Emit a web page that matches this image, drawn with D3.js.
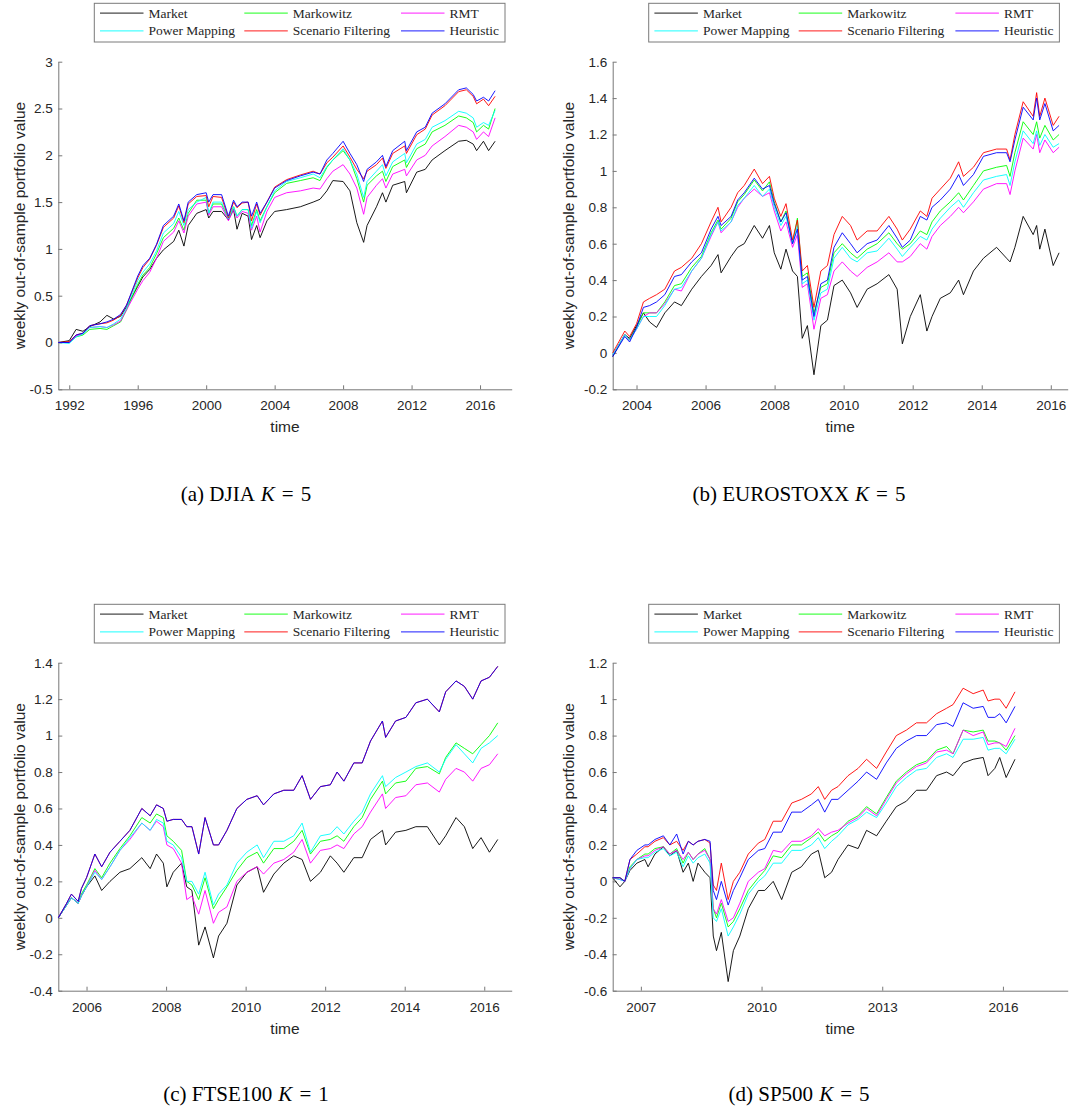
<!DOCTYPE html>
<html>
<head>
<meta charset="utf-8">
<script src="https://cdn.jsdelivr.net/npm/d3@7"></script>
<style>
  body { margin: 0; background: #fff; }
  svg { display: block; }
</style>
</head>
<body>
<div id="chart-area"></div>
<script>
// series legend + colours (MATLAB short names k g m c r b)
var seriesNames = ["Market", "Markowitz", "RMT", "Power Mapping", "Scenario Filtering", "Heuristic"]
var seriesColors = ["#000000", "#00ff00", "#ff00ff", "#00ffff", "#ff0000", "#0000ff"]

// ---- (a) DJIA K = 5 ----
var djiaDates = [1991.36, 1992.0, 1992.4, 1992.8, 1993.2, 1993.8, 1994.2, 1994.6, 1995.0, 1995.35,
    1996.0, 1996.3, 1996.7, 1997.1, 1997.5, 1998.1, 1998.4, 1998.7, 1998.95, 1999.45,
    2000.0, 2000.15, 2000.4, 2000.9, 2001.3, 2001.6, 2001.8, 2002.1, 2002.45, 2002.65,
    2002.95, 2003.15, 2003.55, 2004.0, 2004.7, 2005.5, 2006.25, 2006.65, 2007.05, 2007.4,
    2008.0, 2008.4, 2008.8, 2009.2, 2009.4, 2009.95, 2010.3, 2010.5, 2010.9, 2011.6,
    2011.7, 2012.3, 2012.8, 2013.2, 2013.95, 2014.75, 2015.2, 2015.6, 2015.8, 2016.2,
    2016.5, 2016.88]
var djiaMarket = [0, 0.02, 0.14, 0.12, 0.17, 0.22, 0.29, 0.25, 0.28, 0.38,
    0.6, 0.7, 0.78, 0.9, 0.99, 1.08, 1.2, 1.03, 1.25, 1.38,
    1.42, 1.33, 1.4, 1.4, 1.31, 1.42, 1.21, 1.38, 1.35, 1.1,
    1.25, 1.12, 1.3, 1.4, 1.42, 1.45, 1.5, 1.53, 1.62, 1.73,
    1.72, 1.62, 1.28, 1.07, 1.25, 1.45, 1.6, 1.5, 1.68, 1.72,
    1.6, 1.82, 1.85, 1.95, 2.05, 2.15, 2.16, 2.12, 2.05, 2.15,
    2.05, 2.15]
var djiaMarkowitz = [0, 0.0, 0.06, 0.08, 0.14, 0.15, 0.14, 0.18, 0.22, 0.35,
    0.62, 0.72, 0.8, 0.95, 1.12, 1.22, 1.33, 1.2, 1.38, 1.52,
    1.52, 1.38, 1.48, 1.48, 1.32, 1.45, 1.35, 1.42, 1.42, 1.25,
    1.42, 1.3, 1.45, 1.6, 1.7, 1.73, 1.76, 1.73, 1.87, 1.95,
    2.05, 1.95, 1.75, 1.5, 1.68, 1.78, 1.83, 1.72, 1.88, 1.95,
    1.87, 2.07, 2.12, 2.25, 2.32, 2.42, 2.4, 2.35, 2.25, 2.32,
    2.28, 2.5]
var djiaRMT = [0, 0.0, 0.07, 0.09, 0.16, 0.17, 0.16, 0.19, 0.23, 0.35,
    0.57, 0.66, 0.75, 0.9, 1.08, 1.18, 1.3, 1.17, 1.35, 1.48,
    1.5, 1.36, 1.45, 1.45, 1.3, 1.42, 1.33, 1.4, 1.38, 1.2,
    1.35, 1.18, 1.4, 1.55, 1.6, 1.62, 1.65, 1.64, 1.75, 1.83,
    1.9, 1.8, 1.65, 1.37, 1.55, 1.68, 1.75, 1.65, 1.8, 1.85,
    1.78, 1.95, 2.0, 2.1, 2.2, 2.32, 2.3, 2.25, 2.17, 2.25,
    2.2, 2.4]
var djiaPower = [0, -0.01, 0.06, 0.09, 0.16, 0.17, 0.16, 0.2, 0.25, 0.37,
    0.66, 0.75, 0.84, 0.98, 1.17, 1.27, 1.4, 1.25, 1.42, 1.5,
    1.55, 1.38, 1.5, 1.5, 1.32, 1.45, 1.35, 1.42, 1.42, 1.22,
    1.4, 1.28, 1.45, 1.62, 1.72, 1.76, 1.8, 1.76, 1.88, 1.95,
    2.07, 1.95, 1.8, 1.55, 1.72, 1.83, 1.9, 1.78, 1.93, 2.02,
    1.92, 2.12, 2.17, 2.3, 2.37, 2.47, 2.45, 2.4, 2.3, 2.35,
    2.32, 2.48]
var djiaScenario = [0, 0.01, 0.08, 0.1, 0.18, 0.2, 0.21, 0.24, 0.29, 0.4,
    0.69, 0.8, 0.89, 1.04, 1.23, 1.33, 1.46, 1.28, 1.48, 1.56,
    1.57, 1.45, 1.56, 1.55, 1.33, 1.5, 1.44, 1.49, 1.5, 1.3,
    1.48, 1.36, 1.5, 1.66, 1.74, 1.79, 1.83, 1.8, 1.92, 1.98,
    2.1, 1.98, 1.85, 1.75, 1.83, 1.9, 1.97, 1.86, 2.02, 2.1,
    2.02, 2.22, 2.28, 2.43, 2.53, 2.68, 2.7, 2.63, 2.55, 2.6,
    2.53, 2.63]
var djiaHeuristic = [0, 0.0, 0.08, 0.1, 0.18, 0.2, 0.22, 0.25, 0.3, 0.4,
    0.71, 0.82, 0.9, 1.05, 1.25, 1.35, 1.48, 1.3, 1.5, 1.58,
    1.6, 1.5, 1.58, 1.58, 1.35, 1.52, 1.45, 1.5, 1.5, 1.35,
    1.5, 1.38, 1.5, 1.65, 1.73, 1.78, 1.82, 1.8, 1.95, 2.02,
    2.15, 2.02, 1.9, 1.72, 1.85, 1.93, 2.0, 1.88, 2.05, 2.15,
    2.05, 2.25, 2.3, 2.45, 2.55, 2.7, 2.72, 2.65, 2.58, 2.62,
    2.58, 2.69]

// ---- (b) EUROSTOXX K = 5 ----
var euroDates = [2003.31, 2003.66, 2003.8, 2004.0, 2004.2, 2004.38, 2004.58, 2004.82, 2005.1, 2005.3,
    2005.6, 2005.88, 2006.16, 2006.36, 2006.45, 2006.74, 2006.93, 2007.12, 2007.41, 2007.65,
    2007.85, 2007.99, 2008.18, 2008.33, 2008.52, 2008.66, 2008.8, 2008.95, 2009.14, 2009.34,
    2009.53, 2009.72, 2009.96, 2010.2, 2010.39, 2010.68, 2010.97, 2011.31, 2011.55, 2011.7,
    2011.93, 2012.22, 2012.41, 2012.56, 2012.8, 2013.09, 2013.33, 2013.47, 2013.76, 2014.05,
    2014.43, 2014.72, 2014.82, 2014.96, 2015.2, 2015.49, 2015.59, 2015.68, 2015.83, 2016.07, 2016.24]
var euroMarket = [-0.02, 0.1, 0.08, 0.15, 0.22, 0.17, 0.14, 0.22, 0.28, 0.26,
    0.35, 0.42, 0.48, 0.54, 0.44, 0.53, 0.58, 0.6, 0.7, 0.63,
    0.7, 0.55, 0.46, 0.57, 0.45, 0.42, 0.08, 0.15, -0.12, 0.15,
    0.18, 0.37, 0.4, 0.33, 0.25, 0.35, 0.38, 0.43, 0.35, 0.05,
    0.2, 0.32, 0.12, 0.2, 0.3, 0.33, 0.4, 0.32, 0.45, 0.52,
    0.58, 0.52, 0.5, 0.58, 0.75, 0.65, 0.7, 0.57, 0.68, 0.48, 0.55]
var euroMarkowitz = [-0.01, 0.1, 0.07, 0.14, 0.22, 0.22, 0.22, 0.28, 0.37, 0.38,
    0.47, 0.53, 0.66, 0.73, 0.68, 0.74, 0.83, 0.87, 0.95, 0.89,
    0.94, 0.83, 0.72, 0.78, 0.6, 0.74, 0.42, 0.44, 0.22, 0.36,
    0.38, 0.55, 0.6, 0.55, 0.52, 0.57, 0.6, 0.66, 0.6, 0.57,
    0.6, 0.67, 0.65, 0.72, 0.78, 0.83, 0.88, 0.84, 0.92, 1.0,
    1.02, 1.03, 0.97, 1.1, 1.27, 1.2, 1.27, 1.18, 1.25, 1.17, 1.2]
var euroRMT = [-0.01, 0.1, 0.07, 0.13, 0.2, 0.22, 0.22, 0.27, 0.35, 0.34,
    0.45, 0.52, 0.64, 0.72, 0.66, 0.72, 0.8, 0.85, 0.9, 0.86,
    0.88, 0.78, 0.67, 0.72, 0.58, 0.65, 0.36, 0.38, 0.13, 0.3,
    0.32, 0.45, 0.5, 0.45, 0.42, 0.47, 0.5, 0.55, 0.5, 0.5,
    0.53, 0.6, 0.57, 0.64, 0.7, 0.75, 0.8, 0.77, 0.83, 0.9,
    0.93, 0.93, 0.87, 1.0, 1.18, 1.12, 1.2, 1.1, 1.17, 1.1, 1.13]
var euroPower = [-0.01, 0.1, 0.07, 0.13, 0.2, 0.2, 0.2, 0.26, 0.35, 0.36,
    0.45, 0.52, 0.65, 0.72, 0.67, 0.72, 0.81, 0.85, 0.92, 0.86,
    0.9, 0.8, 0.7, 0.75, 0.6, 0.7, 0.38, 0.4, 0.18, 0.33,
    0.35, 0.52, 0.58, 0.52, 0.5, 0.55, 0.56, 0.63, 0.57, 0.53,
    0.58, 0.64, 0.62, 0.68, 0.74, 0.8, 0.84, 0.8, 0.88, 0.95,
    0.97, 0.98, 0.92, 1.05, 1.22, 1.15, 1.22, 1.14, 1.2, 1.13, 1.15]
var euroScenario = [0.0, 0.12, 0.09, 0.16, 0.28, 0.3, 0.32, 0.35, 0.45, 0.47,
    0.52, 0.6, 0.72, 0.8, 0.72, 0.8, 0.88, 0.92, 1.01, 0.93,
    0.97, 0.85, 0.75, 0.82, 0.62, 0.73, 0.45, 0.48, 0.25, 0.45,
    0.48, 0.65, 0.75, 0.7, 0.62, 0.67, 0.67, 0.75, 0.68, 0.62,
    0.68, 0.78, 0.75, 0.85, 0.9, 0.96, 1.05, 0.97, 1.02, 1.1,
    1.12, 1.12, 1.06, 1.2, 1.38, 1.3, 1.43, 1.3, 1.4, 1.25, 1.3]
var euroHeuristic = [-0.02, 0.09, 0.06, 0.14, 0.25, 0.26, 0.28, 0.32, 0.42, 0.43,
    0.5, 0.55, 0.68, 0.75, 0.7, 0.75, 0.84, 0.88, 0.96, 0.9,
    0.92, 0.82, 0.72, 0.77, 0.6, 0.68, 0.4, 0.42, 0.2, 0.38,
    0.4, 0.58, 0.66, 0.6, 0.55, 0.6, 0.62, 0.7, 0.63, 0.58,
    0.62, 0.75, 0.73, 0.8, 0.84, 0.9, 0.98, 0.92, 0.98, 1.08,
    1.1, 1.1, 1.05, 1.17, 1.35, 1.28, 1.4, 1.28, 1.37, 1.22, 1.25]

// ---- (c) FTSE100 K = 1 ----
var ftseDates = [2005.29, 2005.5, 2005.62, 2005.79, 2005.87, 2006.0, 2006.21, 2006.38, 2006.59, 2006.84,
    2007.09, 2007.39, 2007.6, 2007.76, 2007.93, 2008.02, 2008.18, 2008.39, 2008.52, 2008.65,
    2008.82, 2008.98, 2009.19, 2009.32, 2009.53, 2009.78, 2010.03, 2010.29, 2010.45, 2010.71,
    2010.96, 2011.21, 2011.42, 2011.63, 2011.88, 2012.13, 2012.3, 2012.47, 2012.72, 2012.93,
    2013.14, 2013.44, 2013.52, 2013.77, 2014.03, 2014.28, 2014.57, 2014.87, 2015.03, 2015.29,
    2015.5, 2015.71, 2015.92, 2016.13, 2016.34]
var ftseMarket = [0, 0.07, 0.11, 0.08, 0.12, 0.17, 0.23, 0.15, 0.2, 0.25,
    0.27, 0.33, 0.27, 0.35, 0.3, 0.17, 0.25, 0.3, 0.17, 0.15,
    -0.15, -0.05, -0.22, -0.1, -0.03, 0.18, 0.25, 0.28, 0.14, 0.24,
    0.3, 0.34, 0.32, 0.2, 0.25, 0.34, 0.3, 0.25, 0.33, 0.33,
    0.43, 0.48, 0.4, 0.47, 0.48, 0.5, 0.5, 0.4, 0.45, 0.55,
    0.5, 0.38, 0.44, 0.36, 0.43]
var ftseMarkowitz = [0, 0.07, 0.11, 0.08, 0.13, 0.18, 0.27, 0.22, 0.3, 0.38,
    0.45, 0.55, 0.52, 0.57, 0.55, 0.45, 0.42, 0.37, 0.2, 0.18,
    0.1, 0.22, 0.05, 0.1, 0.17, 0.26, 0.33, 0.36, 0.3, 0.38,
    0.38, 0.42, 0.48, 0.35, 0.42, 0.43, 0.45, 0.42, 0.5, 0.55,
    0.65, 0.75, 0.68, 0.74, 0.75, 0.82, 0.83, 0.79, 0.88, 0.96,
    0.93, 0.9, 0.95, 1.0, 1.07]
var ftseRMT = [0, 0.07, 0.11, 0.08, 0.12, 0.17, 0.26, 0.21, 0.28, 0.37,
    0.43, 0.52, 0.48, 0.53, 0.5, 0.4, 0.38, 0.3, 0.1, 0.12,
    0.02, 0.15, -0.03, 0.03, 0.06, 0.2, 0.25, 0.28, 0.24, 0.3,
    0.32, 0.36, 0.43, 0.3, 0.37, 0.38, 0.4, 0.38, 0.46, 0.5,
    0.58, 0.68, 0.6, 0.66, 0.67, 0.73, 0.74, 0.69, 0.76, 0.82,
    0.8, 0.75, 0.82, 0.84, 0.9]
var ftsePower = [0, 0.07, 0.11, 0.08, 0.12, 0.17, 0.25, 0.21, 0.28, 0.37,
    0.44, 0.52, 0.48, 0.54, 0.52, 0.42, 0.4, 0.33, 0.2, 0.2,
    0.13, 0.25, 0.07, 0.13, 0.18, 0.3, 0.36, 0.4, 0.33, 0.42,
    0.42, 0.45, 0.52, 0.36, 0.45, 0.46, 0.5, 0.46, 0.53, 0.58,
    0.68, 0.78, 0.72, 0.77, 0.8, 0.83, 0.85, 0.8, 0.87, 0.95,
    0.9, 0.85, 0.93, 0.96, 1.0]
// scenario filtering sits exactly under the heuristic line in this panel
var ftseScenario = [0, 0.08, 0.13, 0.09, 0.16, 0.22, 0.35, 0.28, 0.36, 0.42,
    0.48, 0.6, 0.56, 0.62, 0.6, 0.53, 0.54, 0.54, 0.5, 0.5,
    0.35, 0.55, 0.4, 0.4, 0.48, 0.6, 0.65, 0.67, 0.62, 0.68,
    0.7, 0.7, 0.78, 0.65, 0.72, 0.73, 0.8, 0.75, 0.85, 0.85,
    0.97, 1.08, 0.99, 1.08, 1.1, 1.18, 1.2, 1.13, 1.24, 1.3,
    1.27, 1.2, 1.3, 1.32, 1.38]
var ftseHeuristic = [0, 0.08, 0.13, 0.09, 0.16, 0.22, 0.35, 0.28, 0.36, 0.42,
    0.48, 0.6, 0.56, 0.62, 0.6, 0.53, 0.54, 0.54, 0.5, 0.5,
    0.35, 0.55, 0.4, 0.4, 0.48, 0.6, 0.65, 0.67, 0.62, 0.68,
    0.7, 0.7, 0.78, 0.65, 0.72, 0.73, 0.8, 0.75, 0.85, 0.85,
    0.97, 1.08, 0.99, 1.08, 1.1, 1.18, 1.2, 1.13, 1.24, 1.3,
    1.27, 1.2, 1.3, 1.32, 1.38]

// ---- (d) SP500 K = 5 ----
var spDates = [2006.3, 2006.48, 2006.6, 2006.73, 2006.9, 2007.1, 2007.18, 2007.35, 2007.56, 2007.72,
    2007.89, 2008.05, 2008.18, 2008.3, 2008.42, 2008.59, 2008.72, 2008.8, 2008.88, 2009.0,
    2009.17, 2009.3, 2009.46, 2009.67, 2009.92, 2010.08, 2010.29, 2010.5, 2010.75, 2010.99,
    2011.24, 2011.41, 2011.57, 2011.74, 2011.9, 2012.15, 2012.4, 2012.61, 2012.86, 2013.1,
    2013.35, 2013.6, 2013.85, 2014.1, 2014.35, 2014.6, 2014.76, 2015.01, 2015.26, 2015.51,
    2015.63, 2015.8, 2015.92, 2016.08, 2016.3]
var spMarket = [0.02, -0.03, 0.0, 0.06, 0.1, 0.12, 0.08, 0.15, 0.19, 0.14,
    0.17, 0.05, 0.1, 0.0, 0.1, 0.05, 0.02, -0.3, -0.38, -0.28,
    -0.55, -0.38, -0.3, -0.15, -0.05, -0.05, 0.0, -0.1, 0.05, 0.08,
    0.15, 0.17, 0.02, 0.05, 0.12, 0.2, 0.18, 0.28, 0.25, 0.33,
    0.41, 0.44, 0.5, 0.5, 0.58, 0.6, 0.58, 0.65, 0.67, 0.68,
    0.58, 0.62, 0.68, 0.57, 0.67]
var spMarkowitz = [0.02, 0.02, 0.0, 0.08, 0.12, 0.15, 0.15, 0.18, 0.19, 0.15,
    0.18, 0.1, 0.16, 0.12, 0.15, 0.18, 0.12, -0.15, -0.2, -0.12,
    -0.25, -0.22, -0.15, -0.05, 0.02, 0.06, 0.14, 0.13, 0.2, 0.2,
    0.24, 0.27, 0.22, 0.25, 0.27, 0.33, 0.36, 0.41, 0.37, 0.46,
    0.55, 0.6, 0.64, 0.66, 0.72, 0.74, 0.7, 0.83, 0.82, 0.83,
    0.77, 0.77, 0.76, 0.72, 0.8]
var spRMT = [0.02, 0.01, 0.0, 0.07, 0.12, 0.14, 0.14, 0.17, 0.19, 0.15,
    0.17, 0.12, 0.16, 0.12, 0.15, 0.17, 0.12, -0.15, -0.18, -0.1,
    -0.22, -0.2, -0.12, 0.0, 0.05, 0.07, 0.17, 0.16, 0.22, 0.22,
    0.25, 0.29, 0.25, 0.27, 0.28, 0.32, 0.35, 0.4, 0.36, 0.45,
    0.54, 0.59, 0.63, 0.65, 0.71, 0.72, 0.7, 0.83, 0.8, 0.82,
    0.75, 0.76, 0.76, 0.74, 0.84]
var spPower = [0.02, 0.01, 0.0, 0.07, 0.12, 0.13, 0.13, 0.16, 0.18, 0.14,
    0.16, 0.08, 0.14, 0.1, 0.13, 0.15, 0.1, -0.2, -0.22, -0.15,
    -0.3, -0.25, -0.18, -0.07, 0.0, 0.03, 0.1, 0.1, 0.17, 0.17,
    0.2, 0.24, 0.18, 0.22, 0.25, 0.31, 0.34, 0.38, 0.35, 0.43,
    0.52, 0.57, 0.61, 0.62, 0.68, 0.7, 0.68, 0.78, 0.78, 0.79,
    0.72, 0.73, 0.73, 0.7, 0.78]
var spScenario = [0.02, 0.02, 0.0, 0.12, 0.15, 0.19, 0.19, 0.22, 0.24, 0.2,
    0.22, 0.17, 0.22, 0.2, 0.22, 0.23, 0.21, -0.02, -0.05, 0.1,
    -0.1, 0.0, 0.05, 0.15, 0.21, 0.23, 0.33, 0.33, 0.43, 0.45,
    0.48, 0.52, 0.45, 0.5, 0.52, 0.58, 0.62, 0.67, 0.62, 0.71,
    0.8, 0.83, 0.87, 0.87, 0.92, 0.95, 0.97, 1.06, 1.03, 1.05,
    0.99, 1.0, 1.0, 0.95, 1.04]
var spHeuristic = [0.02, 0.02, 0.0, 0.12, 0.17, 0.2, 0.2, 0.23, 0.25, 0.2,
    0.26, 0.15, 0.22, 0.2, 0.22, 0.23, 0.22, -0.05, -0.1, 0.0,
    -0.13, -0.05, 0.02, 0.12, 0.17, 0.18, 0.27, 0.27, 0.38, 0.38,
    0.42, 0.45, 0.38, 0.45, 0.45, 0.5, 0.55, 0.6, 0.56, 0.65,
    0.73, 0.77, 0.8, 0.8, 0.86, 0.87, 0.85, 0.98, 0.95, 0.96,
    0.9, 0.9, 0.92, 0.87, 0.96]

// axis ticks per panel
var djiaXTicks = [1992, 1996, 2000, 2004, 2008, 2012, 2016]
var djiaYTicks = [-0.5, 0, 0.5, 1, 1.5, 2, 2.5, 3]
var euroXTicks = [2004, 2006, 2008, 2010, 2012, 2014, 2016]
var euroYTicks = [-0.2, 0, 0.2, 0.4, 0.6, 0.8, 1, 1.2, 1.4, 1.6]
var ftseXTicks = [2006, 2008, 2010, 2012, 2014, 2016]
var ftseYTicks = [-0.4, -0.2, 0, 0.2, 0.4, 0.6, 0.8, 1, 1.2, 1.4]
var spXTicks = [2007, 2010, 2013, 2016]
var spYTicks = [-0.6, -0.4, -0.2, 0, 0.2, 0.4, 0.6, 0.8, 1, 1.2]

var W = 1085, H = 1110
var sans = "'Liberation Sans', Arial, sans-serif"
var serif = "'Liberation Serif', 'Times New Roman', serif"

var svg = d3.select("#chart-area")
    .append("svg")
        .attr("width", W)
        .attr("height", H)

var panels = [
    {left: 58.3, right: 511.7, top: 61.7, bottom: 389.3, xDomain: [1991.36, 2017.85], yDomain: [-0.5, 3],
     xTicks: djiaXTicks, yTicks: djiaYTicks, dates: djiaDates, ylabX: 25,
     series: [djiaMarket, djiaMarkowitz, djiaRMT, djiaPower, djiaScenario, djiaHeuristic],
     caption: ["(a) DJIA", "K", "5"], capX: 246, capY: 501},
    {left: 612.7, right: 1067.7, top: 61.7, bottom: 389.3, xDomain: [2003.31, 2016.49], yDomain: [-0.2, 1.6],
     xTicks: euroXTicks, yTicks: euroYTicks, dates: euroDates, ylabX: 574,
     series: [euroMarket, euroMarkowitz, euroRMT, euroPower, euroScenario, euroHeuristic],
     caption: ["(b) EUROSTOXX", "K", "5"], capX: 799, capY: 501},
    {left: 58.3, right: 511.7, top: 662.7, bottom: 990.7, xDomain: [2005.29, 2016.69], yDomain: [-0.4, 1.4],
     xTicks: ftseXTicks, yTicks: ftseYTicks, dates: ftseDates, ylabX: 25,
     series: [ftseMarket, ftseMarkowitz, ftseRMT, ftsePower, ftseScenario, ftseHeuristic],
     caption: ["(c) FTSE100", "K", "1"], capX: 246, capY: 1101},
    {left: 612.7, right: 1067.7, top: 662.7, bottom: 990.7, xDomain: [2006.3, 2017.61], yDomain: [-0.6, 1.2],
     xTicks: spXTicks, yTicks: spYTicks, dates: spDates, ylabX: 574,
     series: [spMarket, spMarkowitz, spRMT, spPower, spScenario, spHeuristic],
     caption: ["(d) SP500", "K", "5"], capX: 799, capY: 1101}
]

panels.forEach(drawPanel)

function fmtTick(d) {
    var s = String(+d.toFixed(1))
    return s === "-0" ? "0" : s
}

function drawPanel(p) {
    var g = svg.append("g")

    var x = d3.scaleLinear().domain(p.xDomain).range([p.left, p.right])
    var y = d3.scaleLinear().domain(p.yDomain).range([p.bottom, p.top])

    // axes, ticks pointing inward like MATLAB
    var yAxis = g.append("g")
        .attr("transform", "translate(" + p.left + ",0)")
        .call(d3.axisLeft(y).tickValues(p.yTicks).tickFormat(fmtTick)
            .tickSizeInner(-4).tickSizeOuter(0).tickPadding(5.5))
    var xAxis = g.append("g")
        .attr("transform", "translate(0," + p.bottom + ")")
        .call(d3.axisBottom(x).tickValues(p.xTicks).tickFormat(d3.format("d"))
            .tickSizeInner(-4).tickSizeOuter(0).tickPadding(11.4))

    ;[xAxis, yAxis].forEach(function(a) {
        a.select(".domain").attr("stroke", "#777").attr("stroke-width", 1)
        a.selectAll(".tick line").attr("stroke", "#777").attr("stroke-width", 1)
        a.selectAll(".tick text")
            .attr("fill", "#262626")
            .style("font-family", sans)
            .style("font-size", "13.5px")
    })

    // axis labels
    g.append("text")
        .attr("transform", "translate(" + p.ylabX + "," + (p.top + p.bottom) / 2 + ") rotate(-90)")
        .attr("text-anchor", "middle")
        .attr("fill", "#262626")
        .style("font-family", sans)
        .style("font-size", "15.5px")
        .text("weekly out-of-sample portfolio value")

    g.append("text")
        .attr("x", (p.left + p.right) / 2)
        .attr("y", p.bottom + 43)
        .attr("text-anchor", "middle")
        .attr("fill", "#262626")
        .style("font-family", sans)
        .style("font-size", "15.5px")
        .text("time")

    // series lines
    var line = d3.line()
        .x(d => x(d[0]))
        .y(d => y(d[1]))

    p.series.forEach(function(vals, i) {
        var pts = p.dates.map((t, j) => [t, vals[j]])
        g.append("path")
            .datum(pts)
            .attr("d", line)
            .attr("fill", "none")
            .attr("stroke", seriesColors[i])
            .attr("stroke-width", 0.9)
            .attr("stroke-linejoin", "round")
    })

    // legend box above the plot
    var lx = p.left + 36, ly = p.top - 58.4
    var leg = g.append("g").attr("transform", "translate(" + lx + "," + ly + ")")
    leg.append("rect")
        .attr("x", 0).attr("y", 0)
        .attr("width", 410.7).attr("height", 38.7)
        .attr("fill", "#fff")
        .attr("stroke", "#7a7a7a")
        .attr("stroke-width", 1)

    var colLine = [5.7, 150, 306.7]
    var rowY = [9.8, 27.6]
    seriesNames.forEach(function(name, i) {
        var col = i % 3, row = Math.floor(i / 3)
        leg.append("line")
            .attr("x1", colLine[col]).attr("x2", colLine[col] + 43.5)
            .attr("y1", rowY[row]).attr("y2", rowY[row])
            .attr("stroke", seriesColors[i])
            .attr("stroke-width", 0.9)
        leg.append("text")
            .attr("x", colLine[col] + 48.5)
            .attr("y", rowY[row] + 4.6)
            .attr("fill", "#262626")
            .style("font-family", serif)
            .style("font-size", "13.5px")
            .text(name)
    })

    // sub-figure caption, LaTeX-ish spacing around the "="
    var cap = g.append("text")
        .attr("x", p.capX)
        .attr("y", p.capY)
        .attr("text-anchor", "middle")
        .attr("fill", "#000")
        .style("font-family", serif)
        .style("font-size", "21px")
    cap.append("tspan").text(p.caption[0])
    cap.append("tspan").attr("dx", 6).style("font-style", "italic").text(p.caption[1])
    cap.append("tspan").attr("dx", 7).text("=")
    cap.append("tspan").attr("dx", 7).text(p.caption[2])
}
</script>
</body>
</html>
